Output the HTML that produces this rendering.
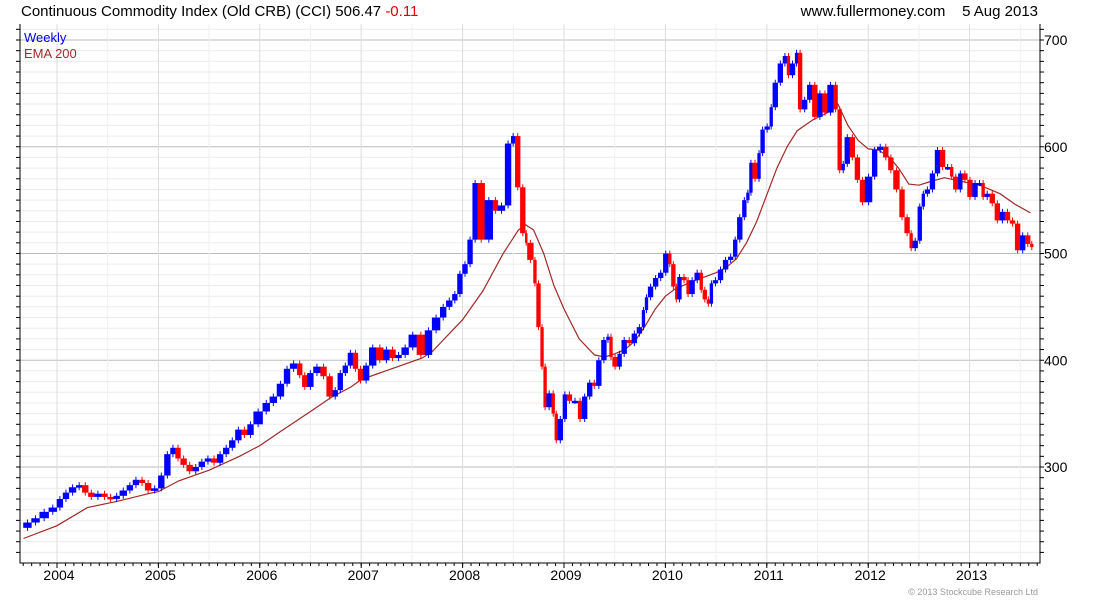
<!DOCTYPE html>
<html><head><meta charset="utf-8"><style>
body{margin:0;background:#fff;font-family:"Liberation Sans",sans-serif;}
svg{display:block}
</style></head><body>
<svg id="c" width="1100" height="600" xmlns="http://www.w3.org/2000/svg" font-family="Liberation Sans, sans-serif">
<text x="21" y="16" font-size="15" fill="#000">Continuous Commodity Index (Old CRB) (CCI) 506.47 <tspan fill="#e00000">-0.11</tspan></text>
<text x="1038" y="16" font-size="15" fill="#000" text-anchor="end">www.fullermoney.com &#160;&#160;&#160;5 Aug 2013</text>
<g id="grid"></g>
<g id="ema"></g>
<g id="bars"></g>
<g id="axes"></g>
<text x="24" y="42" font-size="13" fill="#0000ee">Weekly</text>
<text x="24" y="58" font-size="13" fill="#a52a2a">EMA 200</text>
<text x="1038" y="595" font-size="9" fill="#999" text-anchor="end">© 2013 Stockcube Research Ltd</text>
</svg>
<script>
const dates=[2003.67,2003.75,2003.83,2003.92,2004.0,2004.06,2004.12,2004.19,2004.25,2004.31,2004.37,2004.44,2004.5,2004.56,2004.62,2004.69,2004.75,2004.81,2004.87,2004.93,2005.0,2005.06,2005.12,2005.17,2005.22,2005.28,2005.34,2005.4,2005.46,2005.52,2005.58,2005.64,2005.7,2005.76,2005.82,2005.88,2005.94,2006.03,2006.1,2006.17,2006.24,2006.3,2006.37,2006.42,2006.47,2006.53,2006.6,2006.66,2006.72,2006.77,2006.82,2006.87,2006.92,2006.97,2007.02,2007.08,2007.15,2007.22,2007.28,2007.34,2007.4,2007.47,2007.55,2007.63,2007.7,2007.78,2007.84,2007.9,2007.95,2008.0,2008.05,2008.1,2008.15,2008.22,2008.3,2008.35,2008.42,2008.48,2008.52,2008.57,2008.62,2008.64,2008.7,2008.73,2008.77,2008.8,2008.83,2008.88,2008.91,2008.94,2008.99,2009.03,2009.08,2009.14,2009.18,2009.23,2009.28,2009.32,2009.37,2009.42,2009.45,2009.48,2009.53,2009.57,2009.62,2009.67,2009.72,2009.77,2009.8,2009.83,2009.88,2009.93,2009.98,2010.03,2010.06,2010.1,2010.12,2010.16,2010.21,2010.24,2010.29,2010.34,2010.37,2010.41,2010.44,2010.47,2010.52,2010.57,2010.62,2010.67,2010.71,2010.76,2010.8,2010.83,2010.86,2010.91,2010.94,2010.98,2011.03,2011.06,2011.11,2011.16,2011.2,2011.23,2011.28,2011.31,2011.35,2011.4,2011.45,2011.5,2011.55,2011.6,2011.66,2011.7,2011.74,2011.77,2011.82,2011.87,2011.92,2011.97,2012.04,2012.09,2012.15,2012.2,2012.25,2012.31,2012.36,2012.41,2012.44,2012.49,2012.53,2012.56,2012.61,2012.66,2012.71,2012.76,2012.81,2012.84,2012.89,2012.93,2012.98,2013.03,2013.08,2013.12,2013.15,2013.2,2013.25,2013.3,2013.35,2013.4,2013.45,2013.5,2013.55,2013.6,2013.63];
const closes=[243,248,252,258,262,270,276,281,283,276,272,275,272,270,273,278,283,288,285,278,280,292,312,318,308,302,296,300,305,308,304,312,318,325,335,330,340,352,360,366,378,392,397,386,375,388,394,385,366,372,388,395,407,392,381,395,412,400,410,402,405,412,424,405,428,440,450,456,462,481,490,513,566,513,550,540,545,603,610,562,519,510,494,472,431,394,356,369,350,325,345,368,362,362,345,366,379,376,400,419,422,403,394,406,419,416,425,431,447,459,469,477,482,500,490,469,457,478,475,462,475,482,466,457,453,472,475,485,494,497,513,534,550,557,585,570,594,616,619,637,660,678,685,667,678,688,635,644,658,628,650,632,658,635,578,584,609,590,569,548,572,597,600,590,578,560,534,519,505,512,544,556,560,575,597,581,581,572,560,575,569,553,566,566,553,556,547,531,539,531,528,503,517,509,506];
const emaDates=[2003.67,2004.0,2004.3,2004.6,2004.9,2005.0,2005.2,2005.5,2005.8,2006.0,2006.2,2006.5,2006.7,2006.9,2007.0,2007.3,2007.6,2007.7,2007.8,2008.0,2008.2,2008.4,2008.55,2008.62,2008.7,2008.8,2008.9,2009.0,2009.15,2009.3,2009.4,2009.5,2009.6,2009.7,2009.8,2009.9,2010.0,2010.1,2010.3,2010.5,2010.6,2010.7,2010.8,2010.9,2011.0,2011.1,2011.2,2011.3,2011.45,2011.6,2011.7,2011.8,2011.9,2012.0,2012.1,2012.2,2012.3,2012.4,2012.5,2012.6,2012.75,2012.9,2013.1,2013.3,2013.45,2013.6];
const emaVals=[233,245,262,268,275,277,287,297,310,320,333,352,365,375,382,392,402,408,418,438,465,500,522,527,522,500,470,448,420,405,403,406,410,418,432,448,460,467,475,482,487,495,510,530,555,580,600,615,625,632,640,620,606,598,597,591,580,565,564,567,571,568,564,556,546,538];
const yTicks=[300,400,500,600,700];
const xYears=[2004,2005,2006,2007,2008,2009,2010,2011,2012,2013];

const L=20,R=1040,T=24,B=563;
const X=t=>57+(t-2004)*101.4;
const Y=v=>40+(700-v)*1.0675;
const NS='http://www.w3.org/2000/svg';
function mk(tag,attrs,parent){const e=document.createElementNS(NS,tag);for(const k in attrs)e.setAttribute(k,attrs[k]);parent.appendChild(e);return e;}
const grid=document.getElementById('grid'),axes=document.getElementById('axes'),bars=document.getElementById('bars'),emaG=document.getElementById('ema');

for(let v=220;v<=710;v+=10){
  const major=v%100===0;
  const l=mk('line',{x1:L,x2:R,y1:Y(v),y2:Y(v),stroke:major?'#bbbbbb':'#ececec','stroke-width':1},grid);
  
  
  mk('line',{x1:L-4,x2:L,y1:Y(v),y2:Y(v),stroke:'#000'},axes);
  mk('line',{x1:R,x2:R+4,y1:Y(v),y2:Y(v),stroke:'#000'},axes);
}
for(let yr=2003.5;yr<2013.8;yr+=0.5){
  const x=X(yr);if(x<L||x>R)continue;
  const l=mk('line',{x1:x,x2:x,y1:T,y2:B,stroke:(yr%1===0)?'#dddddd':'#eeeeee'},grid);
  
  
}
for(let m=2003.5;m<2013.7;m+=1/12){const x=X(m);if(x<L||x>R)continue;mk('line',{x1:x,x2:x,y1:B,y2:B+3,stroke:'#000'},axes);}
xYears.forEach(y=>{
  mk('line',{x1:X(y),x2:X(y),y1:B,y2:B+5,stroke:'#000'},axes);
  const t=mk('text',{x:X(y)+2,y:B+17,'font-size':14,'text-anchor':'middle',fill:'#000'},axes);
  t.textContent=y;
  
  
});
yTicks.forEach(v=>{
  const t=mk('text',{x:R+4,y:Y(v)+5,'font-size':14,fill:'#000'},axes);
  t.textContent=v;
  
  
});
const frame=mk('path',{d:`M${L},${T}V${B}H${R}V${T}`,fill:'none',stroke:'#000'},axes);



// bars
for(let i=1;i<closes.length;i++){
  const x0=X(dates[i-1]),x1=X(dates[i]);
  const w=Math.max(2.5,(x1-x0)+0.3);
  const up=closes[i]>=closes[i-1];
  const col=up?'#0000ff':'#ff0000';
  const yA=Y(Math.max(closes[i],closes[i-1])),yB=Y(Math.min(closes[i],closes[i-1]));
  const r=mk('rect',{x:x1-w,y:yA,width:w,height:Math.max(2.5,yB-yA),fill:col},bars);
  
  
  const wk=mk('line',{x1:x1-w/2,x2:x1-w/2,y1:yA-3,y2:yB+3,stroke:col,'stroke-width':1},bars);
  
  
}
// ema
let d='';emaDates.forEach((t,i)=>{d+=(i?'L':'M')+X(t).toFixed(1)+','+Y(emaVals[i]).toFixed(1);});
const p=mk('path',{d:d,fill:'none',stroke:'#a02828','stroke-width':1.2},emaG);


</script>
</body></html>
